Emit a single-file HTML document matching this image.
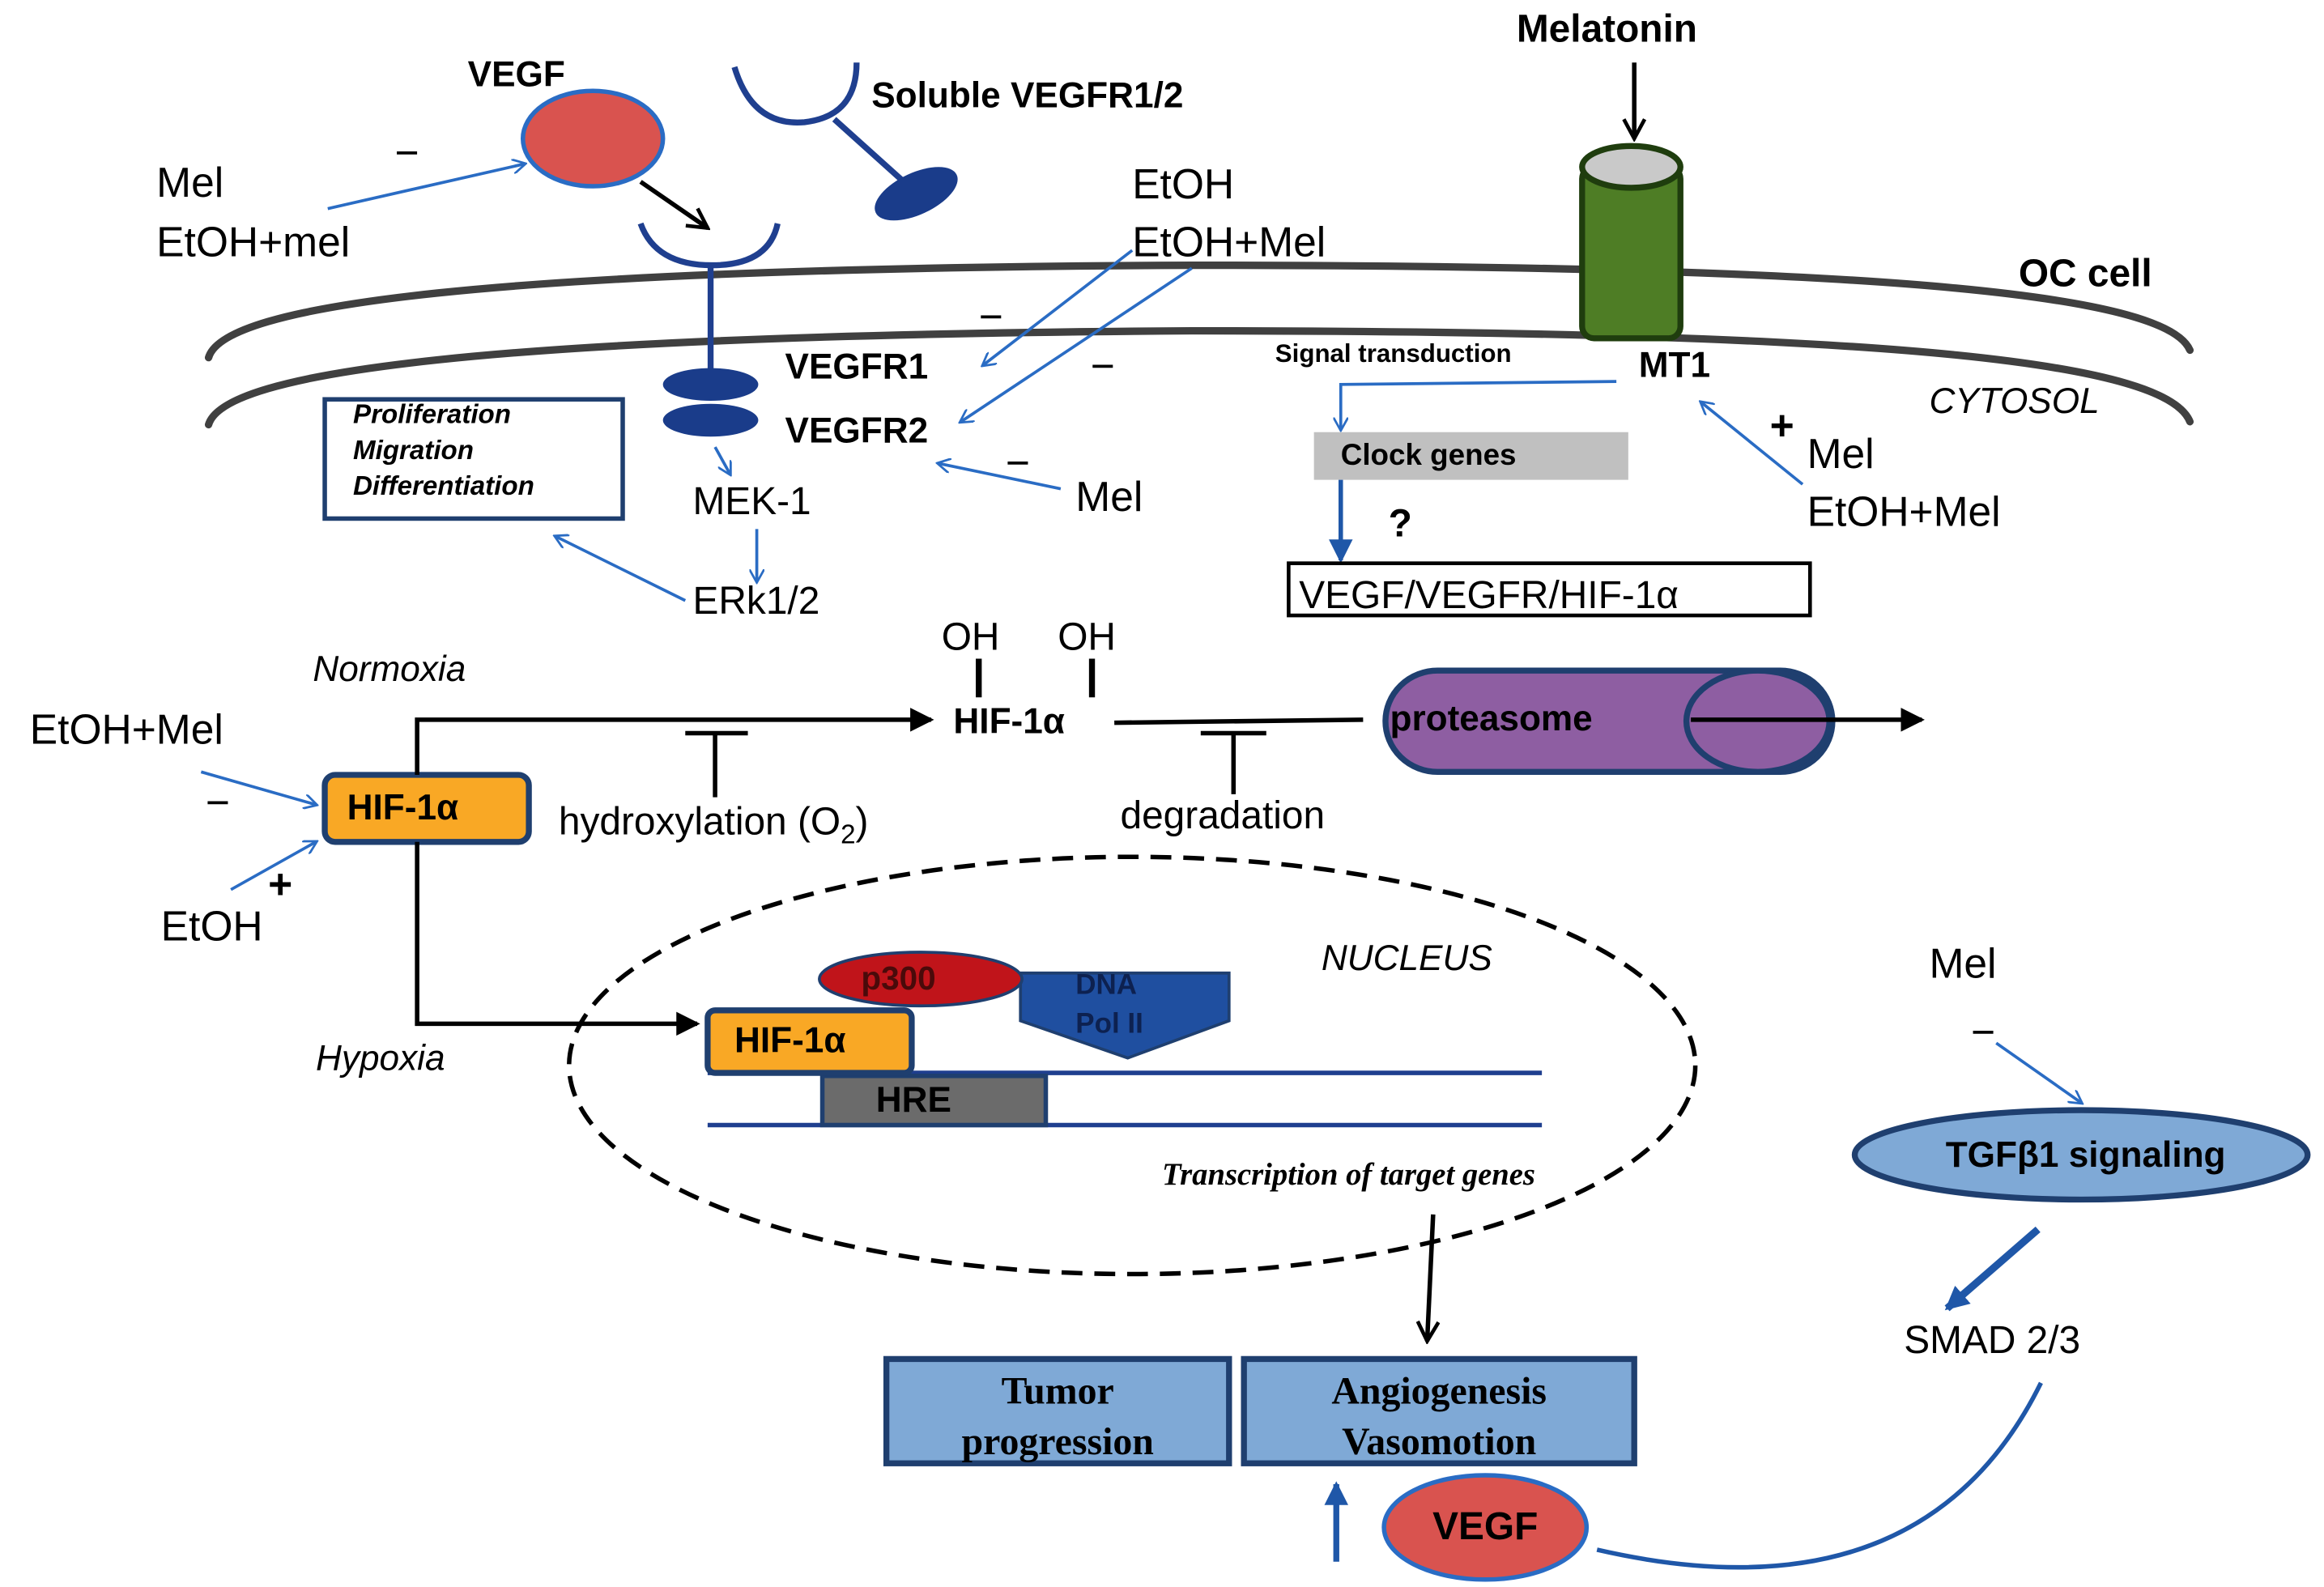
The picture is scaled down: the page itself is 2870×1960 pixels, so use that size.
<!DOCTYPE html>
<html><head><meta charset="utf-8"><style>
html,body{margin:0;padding:0;background:#fff;width:2870px;height:1960px;overflow:hidden}
svg{display:block}
text{font-family:"Liberation Sans",sans-serif}
.b{font-weight:bold}
</style></head><body>
<svg width="2870" height="1960" viewBox="0 0 1560 1065" preserveAspectRatio="none" xmlns="http://www.w3.org/2000/svg">
<defs>
<marker id="ab" markerWidth="10" markerHeight="10" refX="8" refY="5" orient="auto" markerUnits="userSpaceOnUse"><path d="M0,0 L9,5 L0,10" fill="none" stroke="#2a6cc4" stroke-width="1.5"/></marker>
<marker id="ak" markerWidth="18" markerHeight="16" refX="14" refY="8" orient="auto" markerUnits="userSpaceOnUse"><path d="M0,0 L16,8 L0,16 Z" fill="#000"/></marker>
<marker id="akl" markerWidth="16" markerHeight="16" refX="14" refY="8" orient="auto" markerUnits="userSpaceOnUse"><path d="M1,1 L14,8 L1,15" fill="none" stroke="#000" stroke-width="2.5"/></marker>
<marker id="abd" markerWidth="18" markerHeight="16" refX="14" refY="8" orient="auto" markerUnits="userSpaceOnUse"><path d="M0,0 L16,8 L0,16 Z" fill="#1f57a8"/></marker>
</defs>
<g fill="none" stroke-linecap="round">
<path d="M140,240 C150,205 320,180 800,178 C1290,178 1455,200 1470,235" stroke="#404040" stroke-width="5"/>
<path d="M140,285 C150,250 320,225 800,222 C1290,222 1455,245 1470,283" stroke="#404040" stroke-width="5"/>
</g>
<rect x="1062" y="112" width="66" height="115" rx="8" fill="#4e7d25" stroke="#1f3d0e" stroke-width="4"/>
<ellipse cx="1095" cy="112" rx="33" ry="14" fill="#c9c9c9" stroke="#1f3d0e" stroke-width="4"/>
<text x="1018" y="28" font-size="26" class="b">Melatonin</text>
<line x1="1097" y1="42" x2="1097" y2="93" stroke="#000" stroke-width="3" marker-end="url(#akl)"/>
<text x="1355" y="192" font-size="26" class="b">OC cell</text>
<text x="1295" y="277" font-size="24" font-style="italic">CYTOSOL</text>
<text x="314" y="58" font-size="24" class="b">VEGF</text>
<ellipse cx="398" cy="93" rx="47" ry="32" fill="#d9534f" stroke="#2a6cc4" stroke-width="3"/>
<text x="265" y="112" font-size="28">−</text>
<text x="105" y="132" font-size="28">Mel</text>
<text x="105" y="172" font-size="28">EtOH+mel</text>
<line x1="220" y1="140" x2="352" y2="110" stroke="#2a6cc4" stroke-width="2" marker-end="url(#ab)"/>
<line x1="430" y1="122" x2="475" y2="153" stroke="#000" stroke-width="3" marker-end="url(#akl)"/>
<path d="M430,150 Q440,178 478,178 Q516,178 522,150" fill="none" stroke="#1f3f8f" stroke-width="4"/>
<line x1="477" y1="178" x2="477" y2="250" stroke="#1f3f8f" stroke-width="4"/>
<ellipse cx="477" cy="258" rx="32" ry="11" fill="#1a3c8a"/>
<ellipse cx="477" cy="282" rx="32" ry="11" fill="#1a3c8a"/>
<path d="M493,45 Q505,85 540,82 Q575,78 575,42" fill="none" stroke="#1f3f8f" stroke-width="4"/>
<line x1="560" y1="80" x2="610" y2="125" stroke="#1f3f8f" stroke-width="4"/>
<ellipse cx="615" cy="130" rx="30" ry="14" transform="rotate(-25 615 130)" fill="#1a3c8a"/>
<text x="585" y="72" font-size="24" class="b">Soluble VEGFR1/2</text>
<text x="760" y="133" font-size="28">EtOH</text>
<text x="760" y="172" font-size="28">EtOH+Mel</text>
<line x1="760" y1="168" x2="660" y2="245" stroke="#2a6cc4" stroke-width="2" marker-end="url(#ab)"/>
<line x1="800" y1="180" x2="645" y2="283" stroke="#2a6cc4" stroke-width="2" marker-end="url(#ab)"/>
<text x="657" y="222" font-size="28">−</text>
<text x="732" y="255" font-size="28">−</text>
<text x="527" y="254" font-size="24" class="b">VEGFR1</text>
<text x="527" y="297" font-size="24" class="b">VEGFR2</text>
<text x="722" y="343" font-size="28">Mel</text>
<line x1="712" y1="328" x2="630" y2="311" stroke="#2a6cc4" stroke-width="2" marker-end="url(#ab)"/>
<text x="675" y="320" font-size="28">−</text>
<rect x="218" y="268" width="200" height="80" fill="#fff" stroke="#1f3f6f" stroke-width="3"/>
<text x="237" y="284" font-size="18" class="b" font-style="italic">Proliferation</text>
<text x="237" y="308" font-size="18" class="b" font-style="italic">Migration</text>
<text x="237" y="332" font-size="18" class="b" font-style="italic">Differentiation</text>
<line x1="480" y1="300" x2="490" y2="318" stroke="#2a6cc4" stroke-width="2" marker-end="url(#ab)"/>
<text x="465" y="345" font-size="26">MEK-1</text>
<line x1="508" y1="355" x2="508" y2="390" stroke="#2a6cc4" stroke-width="2" marker-end="url(#ab)"/>
<text x="465" y="412" font-size="26">ERk1/2</text>
<line x1="460" y1="403" x2="373" y2="360" stroke="#2a6cc4" stroke-width="2" marker-end="url(#ab)"/>
<text x="856" y="243" font-size="17" class="b">Signal transduction</text>
<text x="1100" y="253" font-size="24" class="b">MT1</text>
<polyline points="1085,256 900,258 900,288" fill="none" stroke="#2a6cc4" stroke-width="2" marker-end="url(#ab)"/>
<rect x="882" y="290" width="211" height="32" fill="#c0c0c0"/>
<text x="900" y="312" font-size="20" class="b">Clock genes</text>
<line x1="900" y1="322" x2="900" y2="376" stroke="#1f57a8" stroke-width="3" marker-end="url(#abd)"/>
<text x="932" y="360" font-size="26" class="b">?</text>
<rect x="865" y="378" width="350" height="35" fill="#fff" stroke="#000" stroke-width="2.5"/>
<text x="872" y="408" font-size="26">VEGF/VEGFR/HIF-1α</text>
<text x="1188" y="295" font-size="28" class="b">+</text>
<text x="1213" y="314" font-size="28">Mel</text>
<text x="1213" y="353" font-size="28">EtOH+Mel</text>
<line x1="1210" y1="325" x2="1142" y2="270" stroke="#2a6cc4" stroke-width="2" marker-end="url(#ab)"/>
<text x="632" y="436" font-size="26">OH</text>
<text x="710" y="436" font-size="26">OH</text>
<line x1="657" y1="442" x2="657" y2="468" stroke="#000" stroke-width="4"/>
<line x1="733" y1="442" x2="733" y2="468" stroke="#000" stroke-width="4"/>
<text x="640" y="492" font-size="24" class="b">HIF-1α</text>
<text x="210" y="457" font-size="24" font-style="italic">Normoxia</text>
<text x="20" y="499" font-size="28">EtOH+Mel</text>
<line x1="135" y1="518" x2="212" y2="540" stroke="#2a6cc4" stroke-width="2" marker-end="url(#ab)"/>
<text x="138" y="548" font-size="28">−</text>
<rect x="218" y="520" width="137" height="45" rx="7" fill="#f9a825" stroke="#1f3f6f" stroke-width="4"/>
<text x="233" y="550" font-size="24" class="b">HIF-1α</text>
<text x="180" y="603" font-size="28" class="b">+</text>
<line x1="155" y1="597" x2="212" y2="565" stroke="#2a6cc4" stroke-width="2" marker-end="url(#ab)"/>
<text x="108" y="631" font-size="28">EtOH</text>
<polyline points="280,520 280,483 625,483" fill="none" stroke="#000" stroke-width="3" marker-end="url(#ak)"/>
<line x1="480" y1="492" x2="480" y2="535" stroke="#000" stroke-width="3"/>
<line x1="460" y1="492" x2="502" y2="492" stroke="#000" stroke-width="3"/>
<text x="375" y="560" font-size="26">hydroxylation (O<tspan font-size="18" dy="6">2</tspan><tspan dy="-6">)</tspan></text>
<line x1="748" y1="485" x2="915" y2="483" stroke="#000" stroke-width="3"/>
<line x1="828" y1="492" x2="828" y2="533" stroke="#000" stroke-width="3"/>
<line x1="806" y1="492" x2="850" y2="492" stroke="#000" stroke-width="3"/>
<text x="752" y="556" font-size="26">degradation</text>
<path d="M965,450 L1195,450 A35,34 0 0 1 1195,518 L965,518 A35,34 0 0 1 965,450 Z" fill="#8e5ea2" stroke="#1f3f6f" stroke-width="4"/>
<ellipse cx="1180" cy="484" rx="48" ry="34" fill="#8e5ea2" stroke="#1f3f6f" stroke-width="4"/>
<text x="933" y="490" font-size="24" class="b">proteasome</text>
<line x1="1135" y1="483" x2="1290" y2="483" stroke="#000" stroke-width="3" marker-end="url(#ak)"/>
<polyline points="280,565 280,687 468,687" fill="none" stroke="#000" stroke-width="3" marker-end="url(#ak)"/>
<text x="212" y="718" font-size="24" font-style="italic">Hypoxia</text>
<ellipse cx="760" cy="715" rx="378" ry="140" fill="none" stroke="#000" stroke-width="3" stroke-dasharray="14,8"/>
<text x="887" y="651" font-size="24" font-style="italic">NUCLEUS</text>
<line x1="475" y1="720" x2="1035" y2="720" stroke="#1f3f8f" stroke-width="3"/>
<line x1="475" y1="755" x2="1035" y2="755" stroke="#1f3f8f" stroke-width="3"/>
<rect x="552" y="722" width="150" height="33" fill="#6b6b6b" stroke="#1f3f6f" stroke-width="3"/>
<text x="588" y="746" font-size="24" class="b">HRE</text>
<path d="M685,653 L825,653 L825,685 L757,710 L685,685 Z" fill="#1f4fa0" stroke="#1f3f6f" stroke-width="2"/>
<text x="722" y="667" font-size="19" class="b" fill="#0d2150">DNA</text>
<text x="722" y="693" font-size="19" class="b" fill="#0d2150">Pol II</text>
<ellipse cx="618" cy="657" rx="68" ry="18" fill="#c0141a" stroke="#1f3f6f" stroke-width="2"/>
<text x="578" y="664" font-size="22" class="b" fill="#4a0a0a">p300</text>
<rect x="475" y="678" width="137" height="42" rx="5" fill="#f9a825" stroke="#1f3f6f" stroke-width="4"/>
<text x="493" y="706" font-size="24" class="b">HIF-1α</text>
<text x="780" y="795" font-size="21" class="b" font-style="italic" style="font-family:'Liberation Serif',serif">Transcription of target genes</text>
<line x1="962" y1="815" x2="958" y2="900" stroke="#000" stroke-width="3" marker-end="url(#akl)"/>
<rect x="595" y="912" width="230" height="70" fill="#7fa9d6" stroke="#1f3f6f" stroke-width="4"/>
<text x="710" y="942" font-size="26" class="b" text-anchor="middle" style="font-family:'Liberation Serif',serif">Tumor</text>
<text x="710" y="976" font-size="26" class="b" text-anchor="middle" style="font-family:'Liberation Serif',serif">progression</text>
<rect x="835" y="912" width="262" height="70" fill="#7fa9d6" stroke="#1f3f6f" stroke-width="4"/>
<text x="966" y="942" font-size="26" class="b" text-anchor="middle" style="font-family:'Liberation Serif',serif">Angiogenesis</text>
<text x="966" y="976" font-size="26" class="b" text-anchor="middle" style="font-family:'Liberation Serif',serif">Vasomotion</text>
<line x1="897" y1="1048" x2="897" y2="996" stroke="#1f57a8" stroke-width="4" marker-end="url(#abd)"/>
<ellipse cx="997" cy="1025" rx="68" ry="35" fill="#d9534f" stroke="#2a6cc4" stroke-width="3"/>
<text x="997" y="1033" font-size="26" class="b" text-anchor="middle">VEGF</text>
<text x="1295" y="656" font-size="28">Mel</text>
<text x="1323" y="702" font-size="28">−</text>
<line x1="1340" y1="700" x2="1397" y2="740" stroke="#2a6cc4" stroke-width="2" marker-end="url(#ab)"/>
<ellipse cx="1397" cy="775" rx="152" ry="30" fill="#7fa9d6" stroke="#1f3f6f" stroke-width="4"/>
<text x="1400" y="783" font-size="24" class="b" text-anchor="middle">TGFβ1 signaling</text>
<line x1="1368" y1="825" x2="1307" y2="878" stroke="#1f57a8" stroke-width="5" marker-end="url(#abd)"/>
<text x="1278" y="908" font-size="26">SMAD 2/3</text>
<path d="M1370,928 Q1290,1090 1072,1040" fill="none" stroke="#1f57a8" stroke-width="3"/>
</svg>
</body></html>
